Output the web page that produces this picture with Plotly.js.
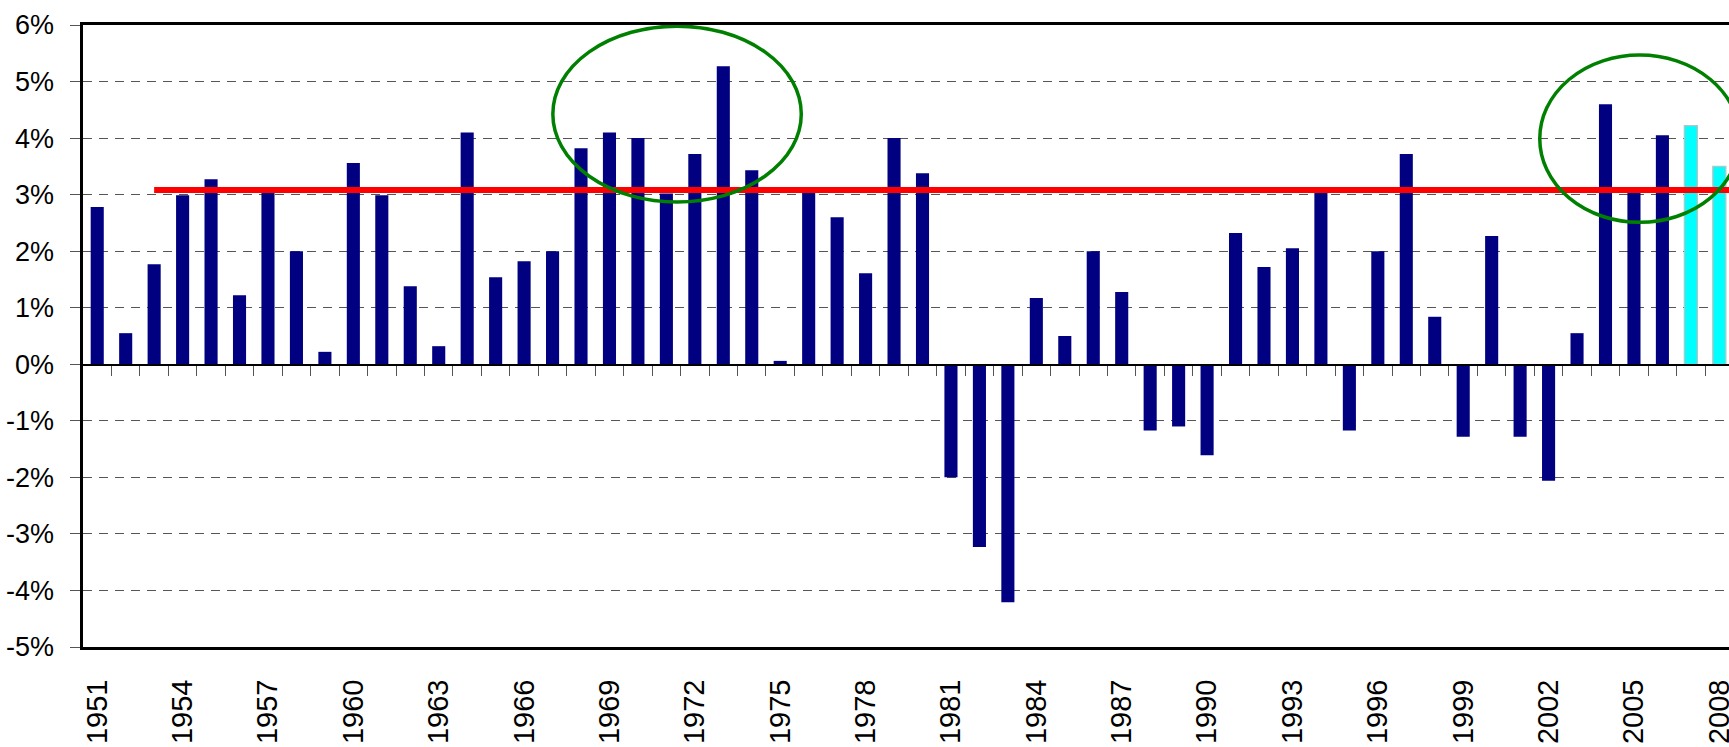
<!DOCTYPE html>
<html>
<head>
<meta charset="utf-8">
<script src="https://cdn.plot.ly/plotly-3.0.1.min.js"></script>
<style>
  html, body { margin: 0; padding: 0; background: #ffffff; overflow: hidden; }
  #chart { width: 1729px; height: 747px; }
</style>
</head>
<body>
<div id="chart"></div>
<script>
// ---- data ----
const years = [
  1951, 1952, 1953, 1954, 1955, 1956, 1957, 1958, 1959, 1960,
  1961, 1962, 1963, 1964, 1965, 1966, 1967, 1968, 1969, 1970,
  1971, 1972, 1973, 1974, 1975, 1976, 1977, 1978, 1979, 1980,
  1981, 1982, 1983, 1984, 1985, 1986, 1987, 1988, 1989, 1990,
  1991, 1992, 1993, 1994, 1995, 1996, 1997, 1998, 1999, 2000,
  2001, 2002, 2003, 2004, 2005, 2006
];
const growth = [
  2.78, 0.55, 1.77, 2.99, 3.27, 1.22, 3.05, 2.00, 0.22, 3.56,
  2.99, 1.38, 0.32, 4.10, 1.54, 1.82, 2.00, 3.82, 4.10, 4.00,
  3.02, 3.72, 5.27, 3.43, 0.06, 3.05, 2.60, 1.61, 4.00, 3.38,
  -2.00, -3.23, -4.21, 1.17, 0.50, 2.00, 1.28, -1.17, -1.10, -1.61,
  2.32, 1.72, 2.05, 3.05, -1.17, 2.00, 3.72, 0.84, -1.28, 2.27,
  -1.28, -2.06, 0.55, 4.60, 3.03, 4.05
];
const forecastYears = [2007, 2008];
const forecastGrowth = [4.22, 3.50];

const avgFrom = [1953, 2009];
const avgValue = [3.08, 3.08];

const yTickVals = [-5, -4, -3, -2, -1, 0, 1, 2, 3, 4, 5, 6];
const yTickText = ['-5%', '-4%', '-3%', '-2%', '-1%', '0%', '1%', '2%', '3%', '4%', '5%', '6%'];
const xTickVals = [1951, 1954, 1957, 1960, 1963, 1966, 1969, 1972, 1975, 1978,
                   1981, 1984, 1987, 1990, 1993, 1996, 1999, 2002, 2005, 2008];
const xTickText = xTickVals.map(String);

// category boundaries for the small ticks on the zero line
const allYears = years.concat(forecastYears);
const boundaries = allYears.slice(0, -1).map(function (y) { return y + 0.5; });

// ---- styling ----
const FONT = '"Liberation Sans", Arial, Helvetica, sans-serif';
const xRange = [1950.5, 2008.34];

const traces = [
  {
    type: 'bar', x: years, y: growth, width: 0.46,
    marker: { color: '#000080', line: { width: 0 } },
    xaxis: 'x', yaxis: 'y', hoverinfo: 'skip'
  },
  {
    type: 'bar', x: forecastYears, y: forecastGrowth, width: 0.46,
    marker: { color: '#00FFFF', line: { color: '#C0C0C0', width: 1.2 } },
    xaxis: 'x', yaxis: 'y', hoverinfo: 'skip'
  },
  {
    type: 'scatter', mode: 'lines', x: avgFrom, y: avgValue,
    line: { color: '#FF0000', width: 6 },
    xaxis: 'x2', yaxis: 'y', hoverinfo: 'skip'
  }
];

const layout = {
  width: 1729, height: 747,
  margin: { l: 83, r: 0, t: 25, b: 100, pad: 0 },
  paper_bgcolor: '#ffffff', plot_bgcolor: '#ffffff',
  showlegend: false, hovermode: false,
  barmode: 'overlay',
  font: { family: FONT, color: '#000000' },
  xaxis: {
    type: 'linear', range: xRange,
    tickmode: 'array', tickvals: xTickVals, ticktext: xTickText,
    tickangle: -90, ticks: '', ticklabelstandoff: 18,
    ticklabeloverflow: 'allow',
    tickfont: { family: FONT, size: 29, color: '#000000' },
    showgrid: false, zeroline: false,
    showline: true, linecolor: '#000000', linewidth: 3, mirror: true
  },
  xaxis2: {
    type: 'linear', range: xRange, overlaying: 'x',
    anchor: 'free', position: 5 / 11, side: 'bottom',
    tickmode: 'array', tickvals: boundaries,
    ticks: 'outside', ticklen: 10, tickwidth: 1, tickcolor: '#555555',
    showticklabels: false, showgrid: false, zeroline: false,
    showline: true, linecolor: '#000000', linewidth: 1.5
  },
  yaxis: {
    range: [-5, 6],
    tickmode: 'array', tickvals: yTickVals, ticktext: yTickText,
    ticks: 'outside', ticklen: 10, tickwidth: 1, tickcolor: '#555555',
    ticklabelstandoff: 10,
    tickfont: { family: FONT, size: 27, color: '#000000' },
    showgrid: true, gridcolor: '#555555', gridwidth: 1, griddash: '9px,7px',
    zeroline: false,
    showline: true, linecolor: '#000000', linewidth: 3.5
  },
  shapes: [
    {
      type: 'circle', xref: 'x', yref: 'y',
      x0: 1967.01, x1: 1975.74, y0: 2.87, y1: 5.98,
      line: { color: '#008000', width: 3.5 }, fillcolor: 'rgba(0,0,0,0)', layer: 'above'
    },
    {
      type: 'circle', xref: 'x', yref: 'y',
      x0: 2001.69, x1: 2008.72, y0: 2.51, y1: 5.47,
      line: { color: '#008000', width: 3.5 }, fillcolor: 'rgba(0,0,0,0)', layer: 'above'
    }
  ]
};

Plotly.newPlot('chart', traces, layout, { staticPlot: true, displayModeBar: false });
</script>
</body>
</html>
